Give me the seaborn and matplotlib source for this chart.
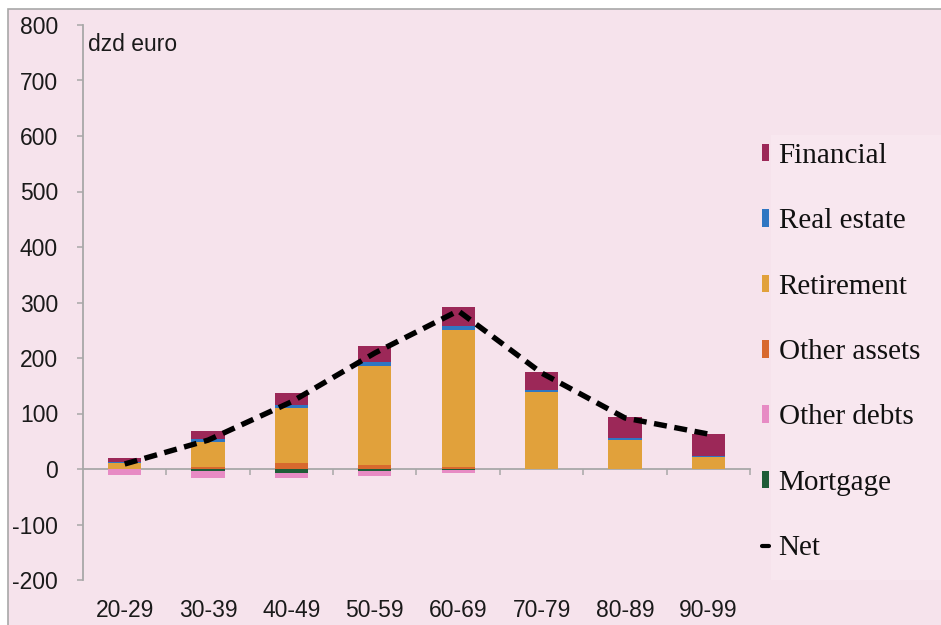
import matplotlib
matplotlib.use("Agg")
import matplotlib.pyplot as plt
import seaborn as sns
import numpy as np
from matplotlib.patches import Patch, Rectangle
from matplotlib.lines import Line2D

categories = ["20-29", "30-39", "40-49", "50-59", "60-69", "70-79", "80-89", "90-99"]
other_assets = [0, 3, 11, 7, 4, 0, 0, 0]
retirement = [11, 46, 99, 179, 246, 139, 52, 22]
real_estate = [1, 5, 5, 7, 8, 3, 3, 2]
financial = [8, 14, 22, 29, 34, 33, 39, 39]
mortgage = [0, -4, -7, -4, -1, 0, 0, 0]
other_debts = [-10, -12, -9, -9, -6, 0, 0, 0]
net = [9, 52, 121, 209, 285, 173, 92, 63]
y_ticks = [-200, -100, 0, 100, 200, 300, 400, 500, 600, 700, 800]

colors = {
    "Financial": "#9c2858",
    "Real estate": "#2f76c2",
    "Retirement": "#e1a13b",
    "Other assets": "#d8692e",
    "Other debts": "#e78bc4",
    "Mortgage": "#1e5c37",
}
bg = "#f6e3ec"
gray = "#a8a8a8"

sns.set_theme(style="white")
plt.rcParams["font.family"] = ["Liberation Sans", "DejaVu Sans"]

fig = plt.figure(figsize=(9.41, 6.25), dpi=100, facecolor="white")
# background panel with gray border (top/left)
fig.patches.append(Rectangle((8 / 941, -0.01), 1.0, 1 - 9 / 625 + 0.01, transform=fig.transFigure,
                             facecolor=bg, edgecolor=gray, linewidth=1.2, zorder=-10))
fig.patches.append(Rectangle((771 / 941, 45 / 625), 0.2, 445 / 625, transform=fig.transFigure,
                             facecolor="#f8e7ef", edgecolor="none", zorder=-9))

ax = fig.add_axes([83 / 941, 45 / 625, (750 - 83) / 941, (580 - 25) / 625])
ax.set_facecolor("none")

x = np.arange(len(categories))
w = 0.4

def stack(vals, bottom, name):
    sns.barplot(x=categories, y=vals, bottom=bottom, color=colors[name], width=w,
                ax=ax, linewidth=0, saturation=1, zorder=2)

pos_bottom = np.zeros(len(categories))
for name, vals in [("Other assets", other_assets), ("Retirement", retirement),
                   ("Real estate", real_estate), ("Financial", financial)]:
    stack(vals, pos_bottom.copy(), name)
    pos_bottom += np.array(vals)

neg_bottom = np.zeros(len(categories))
for name, vals in [("Mortgage", mortgage), ("Other debts", other_debts)]:
    stack(vals, neg_bottom.copy(), name)
    neg_bottom += np.array(vals)

ax.plot(x, net, color="black", linestyle=(0, (2.4, 1.4)), linewidth=3.9, zorder=4)

ax.set_xlim(-0.5, len(categories) - 0.5)
ax.set_ylim(-200, 800)
ax.set_yticks(y_ticks)
ax.set_yticklabels([str(v) for v in y_ticks])
ax.set_xticks(x)
ax.set_xticklabels(categories)
for s in ["top", "right", "bottom"]:
    ax.spines[s].set_visible(False)
ax.spines["left"].set_color(gray)
ax.spines["left"].set_linewidth(1.3)
ax.tick_params(axis="y", direction="out", length=4, width=1.1, color=gray, pad=14,
               labelsize=16.5, labelcolor="#1a1a1a", left=True)
ax.tick_params(axis="x", length=0, pad=14, labelsize=16.5, labelcolor="#1a1a1a")
ax.set_xlabel("")
ax.set_ylabel("")
ax.grid(False)

sec = ax.secondary_xaxis(0.2)
sec.set_xticks(np.arange(len(categories)) + 0.5)
sec.tick_params(axis="x", direction="out", length=4.5, width=1.1, color=gray, labelbottom=False,
                labeltop=False, bottom=True, top=False)
for s in sec.spines.values():
    s.set_color(gray)
    s.set_linewidth(1.3)

ax.text(0.008, 0.985, "dzd euro", transform=ax.transAxes, ha="left", va="top",
        fontsize=16.5, color="#1a1a1a")

legend_names = ["Financial", "Real estate", "Retirement", "Other assets", "Other debts", "Mortgage"]
handles = [Patch(facecolor=colors[n], edgecolor="none") for n in legend_names]
labels = list(legend_names)
handles.append(Line2D([0], [0], color="black", linewidth=3))
labels.append("Net")
leg = fig.legend(handles, labels, loc="upper left", bbox_to_anchor=(762 / 941, 1 - 143 / 625),
                 frameon=False, prop={"family": "Liberation Serif", "size": 21},
                 handlelength=0.25, handleheight=0.55, handletextpad=0.32,
                 labelspacing=1.35, borderpad=0, borderaxespad=0)
for t in leg.get_texts():
    t.set_color("#111111")

fig.savefig("out.png", dpi=100, facecolor="white")
